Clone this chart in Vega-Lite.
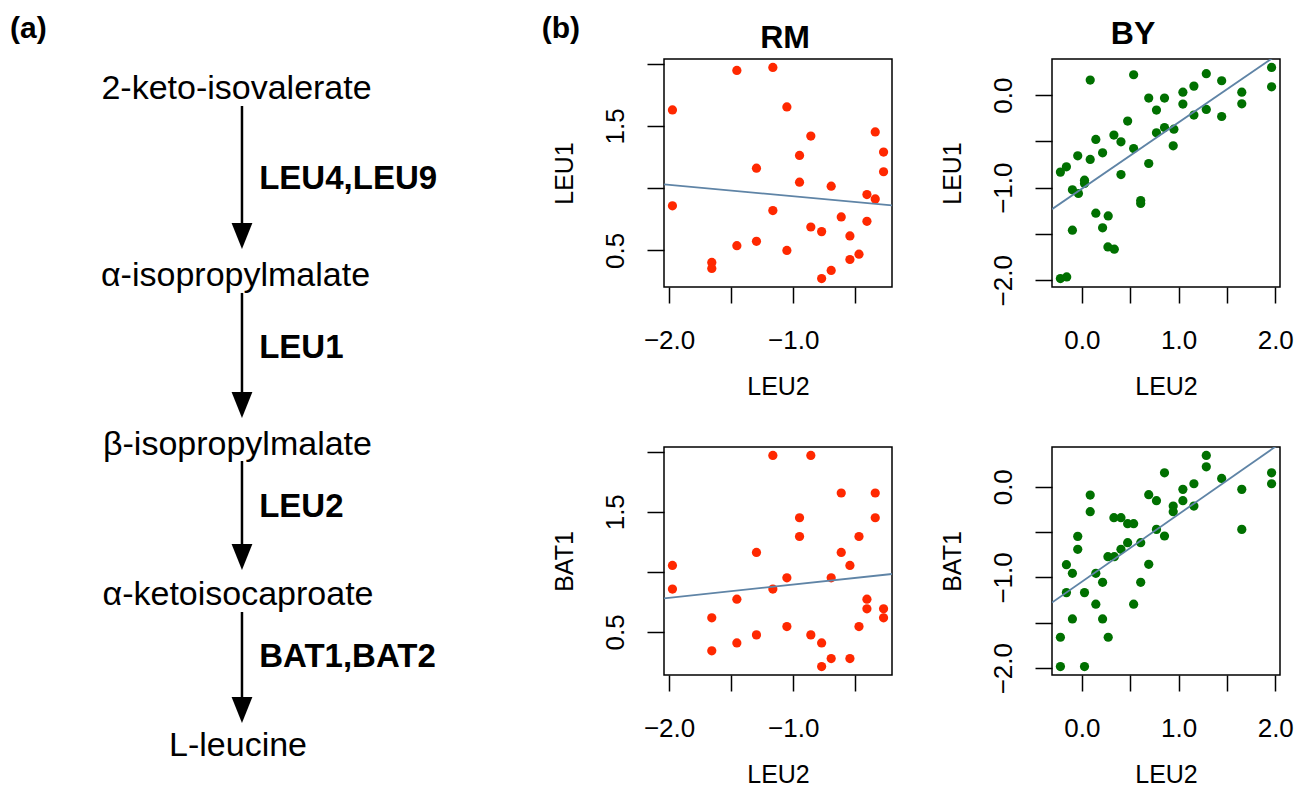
{
  "$schema": "https://vega.github.io/schema/vega-lite/v6.json",
  "background": "white",
  "padding": {"left": 0, "top": 13, "right": 0, "bottom": 0},
  "autosize": {"type": "pad"},
  "bounds": "flush",
  "spacing": 64,
  "config": {
    "font": "Liberation Sans",
    "view": {"stroke": null},
    "axis": {"domain": false, "grid": false, "tickColor": "black", "tickWidth": 1.5, "labelColor": "black", "titleColor": "black", "labelFont": "Liberation Sans", "titleFont": "Liberation Sans", "labelFontSize": 26, "titleFontSize": 25, "titleFontWeight": "normal", "labelFlush": false, "labelOverlap": false},
    "axisX": {"tickSize": 16, "labelPadding": 45, "labelBaseline": "alphabetic", "labelAlign": "center", "titleBaseline": "alphabetic", "titleY": 107},
    "axisY": {"tickSize": 17, "labelPadding": 24, "labelAngle": -90, "labelAlign": "center", "labelBaseline": "alphabetic", "titleAngle": -90, "titleAlign": "center", "titleBaseline": "alphabetic", "titleX": -92},
    "title": {"font": "Liberation Sans", "fontSize": 32, "fontWeight": "bold", "color": "black", "baseline": "alphabetic", "frame": "group", "anchor": "middle"}
  },
  "datasets": {
    "rm_leu1": [
      {"x": -1.454, "y": 1.946}, {"x": -1.164, "y": 1.970}, {"x": -1.973, "y": 1.629}, {"x": -1.051, "y": 1.653},
      {"x": -0.858, "y": 1.419}, {"x": -0.339, "y": 1.452}, {"x": -0.272, "y": 1.290}, {"x": -0.949, "y": 1.263},
      {"x": -1.296, "y": 1.161}, {"x": -0.272, "y": 1.132}, {"x": -0.949, "y": 1.048}, {"x": -0.694, "y": 1.016},
      {"x": -0.406, "y": 0.949}, {"x": -0.339, "y": 0.914}, {"x": -1.973, "y": 0.858}, {"x": -1.164, "y": 0.820},
      {"x": -0.613, "y": 0.769}, {"x": -0.406, "y": 0.734}, {"x": -0.858, "y": 0.688}, {"x": -0.771, "y": 0.651},
      {"x": -0.543, "y": 0.616}, {"x": -1.296, "y": 0.573}, {"x": -1.454, "y": 0.538}, {"x": -1.051, "y": 0.500},
      {"x": -0.470, "y": 0.470}, {"x": -0.543, "y": 0.427}, {"x": -1.656, "y": 0.403}, {"x": -1.656, "y": 0.355},
      {"x": -0.694, "y": 0.339}, {"x": -0.771, "y": 0.274}
    ],
    "rm_bat1": [
      {"x": -1.164, "y": 1.969}, {"x": -0.858, "y": 1.969}, {"x": -0.613, "y": 1.656}, {"x": -0.339, "y": 1.656},
      {"x": -0.949, "y": 1.450}, {"x": -0.339, "y": 1.450}, {"x": -0.949, "y": 1.294}, {"x": -0.470, "y": 1.294},
      {"x": -1.296, "y": 1.161}, {"x": -0.613, "y": 1.161}, {"x": -1.973, "y": 1.053}, {"x": -0.543, "y": 1.053},
      {"x": -1.051, "y": 0.950}, {"x": -0.694, "y": 0.950}, {"x": -1.973, "y": 0.856}, {"x": -1.164, "y": 0.856},
      {"x": -1.454, "y": 0.772}, {"x": -0.406, "y": 0.772}, {"x": -0.406, "y": 0.692}, {"x": -0.272, "y": 0.692},
      {"x": -1.656, "y": 0.617}, {"x": -0.272, "y": 0.617}, {"x": -1.051, "y": 0.544}, {"x": -0.470, "y": 0.544},
      {"x": -1.296, "y": 0.475}, {"x": -0.858, "y": 0.475}, {"x": -1.454, "y": 0.408}, {"x": -0.771, "y": 0.408},
      {"x": -1.656, "y": 0.342}, {"x": -0.694, "y": 0.278}, {"x": -0.543, "y": 0.278}, {"x": -0.771, "y": 0.211}
    ],
    "by_leu1": [
      {"x": 0.087, "y": 0.162}, {"x": 0.536, "y": 0.220}, {"x": 1.287, "y": 0.231}, {"x": 1.962, "y": 0.299},
      {"x": 1.159, "y": 0.097}, {"x": 1.446, "y": 0.155}, {"x": 1.962, "y": 0.090}, {"x": 1.045, "y": 0.032},
      {"x": 1.654, "y": 0.032}, {"x": 0.692, "y": -0.032}, {"x": 0.855, "y": -0.032}, {"x": 1.045, "y": -0.097},
      {"x": 1.654, "y": -0.094}, {"x": 0.772, "y": -0.162}, {"x": 1.287, "y": -0.155}, {"x": 1.159, "y": -0.216},
      {"x": 1.446, "y": -0.231}, {"x": 0.474, "y": -0.281}, {"x": 0.855, "y": -0.350}, {"x": 0.952, "y": -0.368},
      {"x": 0.772, "y": -0.407}, {"x": 0.332, "y": -0.432}, {"x": 0.145, "y": -0.479}, {"x": 0.405, "y": -0.505},
      {"x": 0.945, "y": -0.548}, {"x": 0.536, "y": -0.577}, {"x": 0.215, "y": -0.623}, {"x": -0.042, "y": -0.656},
      {"x": 0.087, "y": -0.695}, {"x": -0.159, "y": -0.775}, {"x": -0.221, "y": -0.832}, {"x": 0.692, "y": -0.739},
      {"x": 0.405, "y": -0.858}, {"x": 0.028, "y": -0.919}, {"x": 0.028, "y": -0.955}, {"x": -0.097, "y": -1.023},
      {"x": -0.035, "y": -1.063}, {"x": 0.609, "y": -1.139}, {"x": 0.609, "y": -1.171}, {"x": 0.145, "y": -1.276},
      {"x": 0.273, "y": -1.305}, {"x": 0.215, "y": -1.434}, {"x": -0.097, "y": -1.459}, {"x": 0.270, "y": -1.640},
      {"x": 0.336, "y": -1.665}, {"x": -0.221, "y": -1.982}, {"x": -0.156, "y": -1.964}
    ],
    "by_bat1": [
      {"x": 1.287, "y": 0.345}, {"x": 1.287, "y": 0.220}, {"x": 0.855, "y": 0.154}, {"x": 1.962, "y": 0.154},
      {"x": 1.446, "y": 0.092}, {"x": 1.962, "y": 0.033}, {"x": 1.159, "y": 0.033}, {"x": 1.045, "y": -0.029},
      {"x": 1.654, "y": -0.029}, {"x": 0.087, "y": -0.092}, {"x": 0.692, "y": -0.088}, {"x": 0.772, "y": -0.154},
      {"x": 1.045, "y": -0.154}, {"x": 0.945, "y": -0.213}, {"x": 1.159, "y": -0.213}, {"x": 0.945, "y": -0.275},
      {"x": 0.087, "y": -0.275}, {"x": 0.332, "y": -0.341}, {"x": 0.405, "y": -0.341}, {"x": 0.474, "y": -0.407},
      {"x": 0.536, "y": -0.407}, {"x": 1.654, "y": -0.470}, {"x": 0.772, "y": -0.470}, {"x": 0.855, "y": -0.543},
      {"x": -0.042, "y": -0.547}, {"x": 0.474, "y": -0.617}, {"x": 0.609, "y": -0.617}, {"x": -0.042, "y": -0.690},
      {"x": 0.405, "y": -0.690}, {"x": 0.270, "y": -0.771}, {"x": 0.336, "y": -0.771}, {"x": 0.692, "y": -0.855},
      {"x": -0.159, "y": -0.859}, {"x": -0.097, "y": -0.954}, {"x": 0.145, "y": -0.954}, {"x": 0.215, "y": -1.053},
      {"x": 0.609, "y": -1.053}, {"x": -0.159, "y": -1.167}, {"x": 0.028, "y": -1.167}, {"x": 0.145, "y": -1.295},
      {"x": 0.536, "y": -1.295}, {"x": -0.097, "y": -1.457}, {"x": 0.215, "y": -1.457}, {"x": -0.221, "y": -1.659},
      {"x": 0.273, "y": -1.659}, {"x": -0.221, "y": -1.982}, {"x": 0.028, "y": -1.982}
    ],
    "rm_leu1_fit": [{"x": -2.041, "y": 1.03}, {"x": -0.204, "y": 0.862}],
    "by_leu1_fit": [{"x": -0.308, "y": -1.232}, {"x": 2.049, "y": 0.456}],
    "rm_bat1_fit": [{"x": -2.041, "y": 0.779}, {"x": -0.204, "y": 0.982}],
    "by_bat1_fit": [{"x": -0.308, "y": -1.277}, {"x": 2.049, "y": 0.477}]
  },
  "hconcat": [
    {
      "width": 600,
      "height": 730,
      "view": {"stroke": null},
      "encoding": {
        "x": {"field": "x", "type": "quantitative", "scale": {"domain": [0, 100], "nice": false, "zero": false}, "axis": null},
        "y": {"field": "y", "type": "quantitative", "scale": {"domain": [0, 100], "nice": false, "zero": false, "reverse": true}, "axis": null}
      },
      "layer": [
        {
          "data": {"values": [
            {"x": 40.33, "y": 6.44, "y2": 24.25},
            {"x": 40.33, "y": 32.05, "y2": 47.40},
            {"x": 40.33, "y": 55.07, "y2": 68.22},
            {"x": 40.33, "y": 75.75, "y2": 89.18}
          ]},
          "mark": {"type": "rule", "color": "black", "strokeWidth": 2.5},
          "encoding": {"y2": {"field": "y2"}}
        },
        {
          "data": {"values": [
            {"x": 40.33, "y": 24.25}, {"x": 40.33, "y": 47.40}, {"x": 40.33, "y": 68.22}, {"x": 40.33, "y": 89.18}
          ]},
          "mark": {"type": "point", "shape": "M-0.8,-1L0.8,-1L0,1Z", "filled": true, "color": "black", "opacity": 1, "size": 676, "strokeWidth": 0}
        },
        {
          "data": {"values": [
            {"label": "2-keto-isovalerate", "x": 39.42, "y": 5.48},
            {"label": "α-isopropylmalate", "x": 39.25, "y": 31.10},
            {"label": "β-isopropylmalate", "x": 39.58, "y": 54.25},
            {"label": "α-ketoisocaproate", "x": 39.67, "y": 74.79},
            {"label": "L-leucine", "x": 39.67, "y": 95.48}
          ]},
          "mark": {"type": "text", "font": "Liberation Sans", "fontSize": 34, "align": "center", "baseline": "alphabetic", "color": "black"},
          "encoding": {"text": {"field": "label"}}
        },
        {
          "data": {"values": [
            {"label": "LEU4,LEU9", "x": 43.2, "y": 17.81},
            {"label": "LEU1", "x": 43.2, "y": 40.96},
            {"label": "LEU2", "x": 43.2, "y": 62.74},
            {"label": "BAT1,BAT2", "x": 43.2, "y": 83.29}
          ]},
          "mark": {"type": "text", "font": "Liberation Sans", "fontSize": 33, "fontWeight": "bold", "align": "left", "baseline": "alphabetic", "color": "black"},
          "encoding": {"text": {"field": "label"}}
        },
        {
          "data": {"values": [
            {"label": "(a)", "x": 1.67, "y": -2.88},
            {"label": "(b)", "x": 90.28, "y": -2.88}
          ]},
          "mark": {"type": "text", "font": "Liberation Sans", "fontSize": 30, "fontWeight": "bold", "align": "left", "baseline": "alphabetic", "color": "black"},
          "encoding": {"text": {"field": "label"}}
        }
      ]
    },
    {
      "bounds": "flush",
      "spacing": 160,
      "columns": 2,
      "concat": [
        {
          "width": 228, "height": 228,
          "view": {"stroke": "black", "strokeWidth": 1.5},
          "title": {"text": "RM", "offset": 4, "dx": 7},
          "encoding": {
            "x": {"field": "x", "type": "quantitative", "scale": {"domain": [-2.041, -0.204], "nice": false, "zero": false},
                  "axis": {"title": "LEU2", "values": [-2, -1.5, -1, -0.5], "format": ".1f", "labelExpr": "datum.value == -2 || datum.value == -1 ? datum.label : ''"}},
            "y": {"field": "y", "type": "quantitative", "scale": {"domain": [0.206, 2.038], "nice": false, "zero": false},
                  "axis": {"title": "LEU1", "values": [0.5, 1, 1.5, 2], "format": ".1f", "labelExpr": "datum.value == 0.5 || datum.value == 1.5 ? datum.label : ''"}}
          },
          "layer": [
            {"data": {"name": "rm_leu1"}, "mark": {"type": "circle", "size": 85, "opacity": 1, "color": "#ff2800"}},
            {"data": {"name": "rm_leu1_fit"}, "mark": {"type": "line", "color": "#5f84a6", "strokeWidth": 1.8, "clip": true}, "encoding": {}}
          ]
        },
        {
          "width": 228, "height": 228,
          "view": {"stroke": "black", "strokeWidth": 1.5},
          "title": {"text": "BY", "offset": 8, "dx": -33},
          "encoding": {
            "x": {"field": "x", "type": "quantitative", "scale": {"domain": [-0.308, 2.049], "nice": false, "zero": false},
                  "axis": {"title": "LEU2", "values": [0, 0.5, 1, 1.5, 2], "format": ".1f", "labelExpr": "datum.value % 1 == 0 ? datum.label : ''"}},
            "y": {"field": "y", "type": "quantitative", "scale": {"domain": [-2.073, 0.39], "nice": false, "zero": false},
                  "axis": {"title": "LEU1", "values": [-2, -1.5, -1, -0.5, 0], "format": ".1f", "labelExpr": "datum.value % 1 == 0 ? datum.label : ''"}}
          },
          "layer": [
            {"data": {"name": "by_leu1"}, "mark": {"type": "circle", "size": 85, "opacity": 1, "color": "#007000"}},
            {"data": {"name": "by_leu1_fit"}, "mark": {"type": "line", "color": "#5f84a6", "strokeWidth": 1.8, "clip": true}, "encoding": {}}
          ]
        },
        {
          "width": 228, "height": 228,
          "view": {"stroke": "black", "strokeWidth": 1.5},
          "encoding": {
            "x": {"field": "x", "type": "quantitative", "scale": {"domain": [-2.041, -0.204], "nice": false, "zero": false},
                  "axis": {"title": "LEU2", "values": [-2, -1.5, -1, -0.5], "format": ".1f", "labelExpr": "datum.value == -2 || datum.value == -1 ? datum.label : ''"}},
            "y": {"field": "y", "type": "quantitative", "scale": {"domain": [0.141, 2.039], "nice": false, "zero": false},
                  "axis": {"title": "BAT1", "values": [0.5, 1, 1.5, 2], "format": ".1f", "labelExpr": "datum.value == 0.5 || datum.value == 1.5 ? datum.label : ''"}}
          },
          "layer": [
            {"data": {"name": "rm_bat1"}, "mark": {"type": "circle", "size": 85, "opacity": 1, "color": "#ff2800"}},
            {"data": {"name": "rm_bat1_fit"}, "mark": {"type": "line", "color": "#5f84a6", "strokeWidth": 1.8, "clip": true}, "encoding": {}}
          ]
        },
        {
          "width": 228, "height": 228,
          "view": {"stroke": "black", "strokeWidth": 1.5},
          "encoding": {
            "x": {"field": "x", "type": "quantitative", "scale": {"domain": [-0.308, 2.049], "nice": false, "zero": false},
                  "axis": {"title": "LEU2", "values": [0, 0.5, 1, 1.5, 2], "format": ".1f", "labelExpr": "datum.value % 1 == 0 ? datum.label : ''"}},
            "y": {"field": "y", "type": "quantitative", "scale": {"domain": [-2.075, 0.438], "nice": false, "zero": false},
                  "axis": {"title": "BAT1", "values": [-2, -1.5, -1, -0.5, 0], "format": ".1f", "labelExpr": "datum.value % 1 == 0 ? datum.label : ''"}}
          },
          "layer": [
            {"data": {"name": "by_bat1"}, "mark": {"type": "circle", "size": 85, "opacity": 1, "color": "#007000"}},
            {"data": {"name": "by_bat1_fit"}, "mark": {"type": "line", "color": "#5f84a6", "strokeWidth": 1.8, "clip": true}, "encoding": {}}
          ]
        }
      ]
    }
  ]
}
